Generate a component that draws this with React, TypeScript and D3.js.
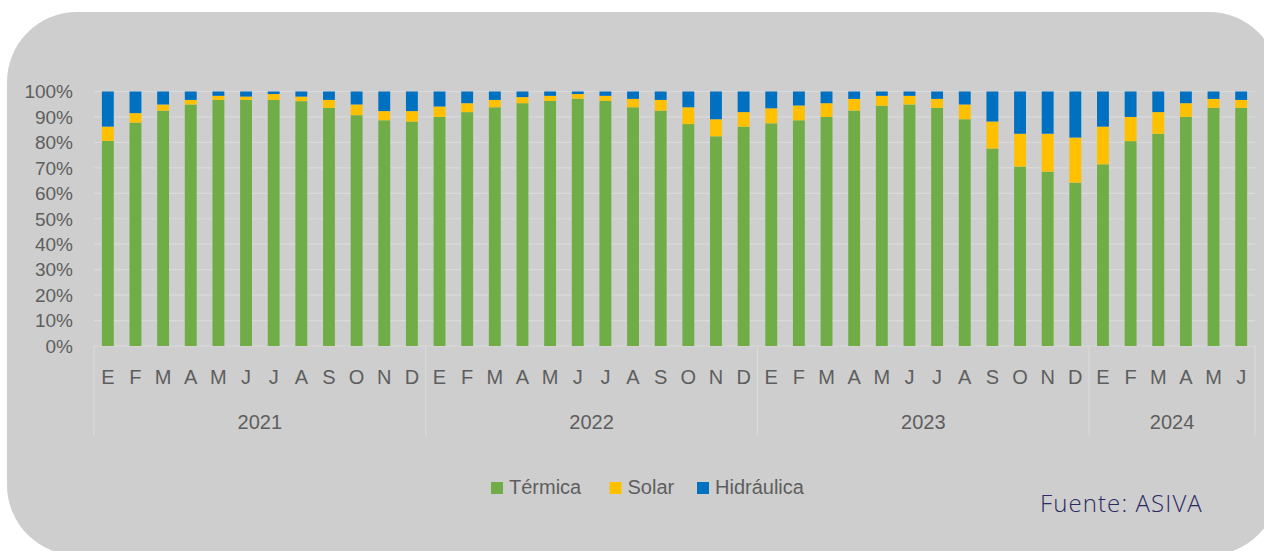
import React from 'react';
import * as d3 from 'd3';

// Años y meses (eje de categorías en dos niveles)
const years = ['2021', '2022', '2023', '2024'];
const monthsPerYear = [12, 12, 12, 6];
const monthLetters = ['E', 'F', 'M', 'A', 'M', 'J', 'J', 'A', 'S', 'O', 'N', 'D'];

// Participación por fuente (%)
const termica = [
  80.6, 87.8, 92.5, 94.9, 96.7, 96.7, 96.7, 96.2, 93.6, 90.7, 88.7, 88.2,
  90.0, 91.9, 93.8, 95.4, 96.3, 97.2, 96.3, 93.8, 92.5, 87.2, 82.4, 86.2,
  87.5, 88.7, 90.0, 92.5, 94.4, 94.9, 93.6, 89.1, 77.6, 70.5, 68.5, 64.2,
  71.4, 80.5, 83.4, 90.0, 93.6, 93.6,
];
const solar = [
  5.6, 3.7, 2.4, 1.8, 1.6, 1.3, 2.3, 1.8, 3.1, 4.2, 3.6, 4.1,
  4.1, 3.5, 2.9, 2.4, 2.0, 1.8, 2.0, 3.3, 4.2, 6.6, 6.7, 5.7,
  5.9, 5.8, 5.4, 4.6, 3.9, 3.4, 3.5, 5.8, 10.6, 12.9, 14.9, 17.7,
  14.8, 9.5, 8.5, 5.4, 3.5, 3.1,
];
const hidraulica = [
  13.8, 8.5, 5.1, 3.3, 1.7, 2.0, 1.0, 2.0, 3.3, 5.1, 7.7, 7.7,
  5.9, 4.6, 3.3, 2.2, 1.7, 1.0, 1.7, 2.9, 3.3, 6.2, 10.9, 8.1,
  6.6, 5.5, 4.6, 2.9, 1.7, 1.7, 2.9, 5.1, 11.8, 16.6, 16.6, 18.1,
  13.8, 10.0, 8.1, 4.6, 2.9, 3.3,
];
const yTicks = [0, 10, 20, 30, 40, 50, 60, 70, 80, 90, 100];

const seriesKeys = ['Térmica', 'Solar', 'Hidráulica'];
const colors: Record<string, string> = {
  'Térmica': '#70ad47',
  'Solar': '#ffc000',
  'Hidráulica': '#0070c0',
};

const W = 1264;
const H = 551;
const left = 94;
const right = 1255;
const top = 91.5;
const bottom = 346;
const font = '"Liberation Sans", Arial, sans-serif';
const textGray = '#5e5e5e';

export default function App() {
  // filas para d3.stack
  const rows = termica.map((t, i) => ({
    idx: i,
    'Térmica': t,
    'Solar': solar[i],
    'Hidráulica': hidraulica[i],
  }));
  const stacked = d3.stack<any>().keys(seriesKeys)(rows);

  const x = d3.scaleBand<number>()
    .domain(rows.map(r => r.idx))
    .range([left, right])
    .paddingInner(0.57)
    .paddingOuter(0.285);
  const step = x.step();
  const y = d3.scaleLinear().domain([0, 100]).range([bottom, top]);

  // etiquetas de meses y bloques de años
  const monthLabels: { i: number; label: string }[] = [];
  const yearBlocks: { year: string; start: number; end: number }[] = [];
  let k = 0;
  years.forEach((yr, yi) => {
    const start = k;
    for (let m = 0; m < monthsPerYear[yi]; m++) {
      monthLabels.push({ i: k, label: monthLetters[m] });
      k++;
    }
    yearBlocks.push({ year: yr, start, end: k });
  });
  const edge = (i: number) => left + step * i;

  const legendItems = [
    { key: 'Térmica', x: 491 },
    { key: 'Solar', x: 609.5 },
    { key: 'Hidráulica', x: 697 },
  ];

  return (
    <svg width={W} height={H} style={{ position: 'absolute', left: 0, top: 0 }}>
      <rect x={0} y={0} width={W} height={H} fill="#ffffff" />
      <rect x={7} y={12} width={1272} height={543} rx={70} ry={70} fill="#cecece" />

      {/* líneas de cuadrícula */}
      {yTicks.map(t => (
        <line key={t} x1={left} x2={right} y1={y(t)} y2={y(t)}
          stroke={t === 0 ? '#d9d9d9' : '#dadada'} strokeWidth={1.2} />
      ))}

      {/* etiquetas eje Y */}
      {yTicks.map(t => (
        <text key={'l' + t} x={73} y={y(t)} dy="0.36em" textAnchor="end"
          fontFamily={font} fontSize={19} fill={textGray}>{t}%</text>
      ))}

      {/* barras apiladas */}
      {stacked.map(s => (
        <g key={s.key} fill={colors[s.key]}>
          {s.map((d, i) => (
            <rect key={i} x={x(rows[i].idx)} width={x.bandwidth()}
              y={y(d[1])} height={y(d[0]) - y(d[1])} />
          ))}
        </g>
      ))}

      {/* separadores de años */}
      {[0, ...yearBlocks.map(b => b.end)].map(i => (
        <line key={'s' + i} x1={edge(i)} x2={edge(i)} y1={bottom} y2={436}
          stroke="#dadada" strokeWidth={1.2} />
      ))}

      {monthLabels.map(m => (
        <text key={'m' + m.i} x={edge(m.i) + step / 2} y={384} textAnchor="middle"
          fontFamily={font} fontSize={20} fill={textGray}>{m.label}</text>
      ))}

      {yearBlocks.map(b => (
        <text key={b.year} x={(edge(b.start) + edge(b.end)) / 2} y={429} textAnchor="middle"
          fontFamily={font} fontSize={20} fill={textGray}>{b.year}</text>
      ))}

      {/* leyenda */}
      {legendItems.map(it => (
        <g key={it.key}>
          <rect x={it.x} y={482} width={12} height={12} fill={colors[it.key]} />
          <text x={it.x + 18} y={494} fontFamily={font} fontSize={20} fill={textGray}>{it.key}</text>
        </g>
      ))}

      <text x={1040} y={512} fontFamily='"Open Sans", sans-serif' fontSize={24}
        fontWeight={300} letterSpacing={1.1} fill="#2c2a63">Fuente: ASIVA</text>
    </svg>
  );
}
